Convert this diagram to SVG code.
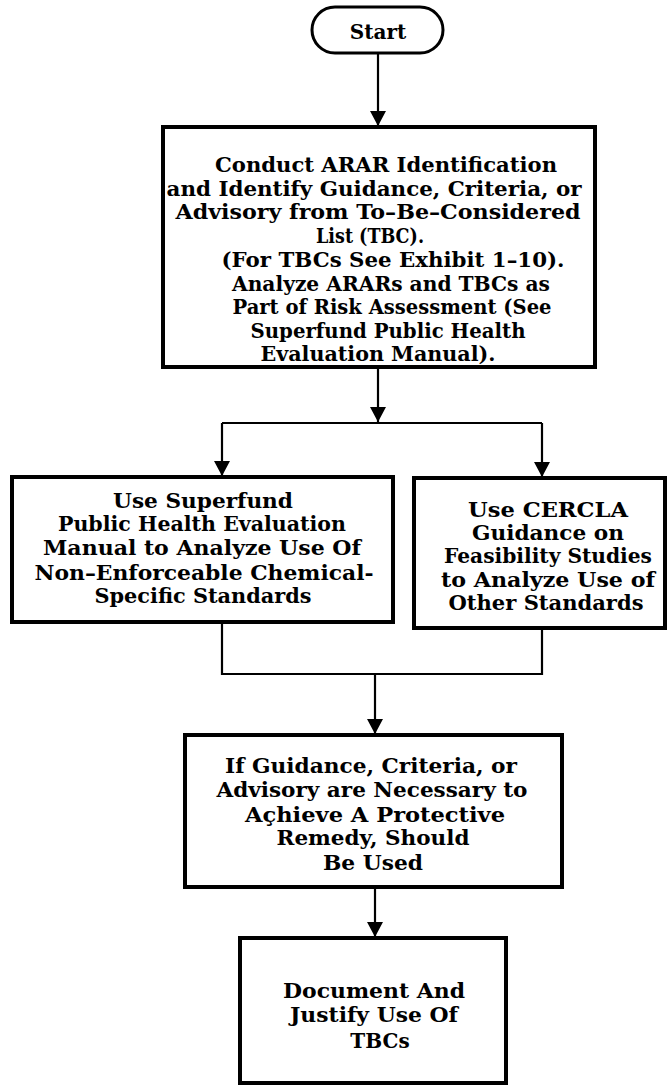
<svg xmlns="http://www.w3.org/2000/svg" width="668" height="1086" viewBox="0 0 668 1086">
<defs>
<style>
.box{fill:#fff;stroke:#000;stroke-width:4}
.pill{fill:#fff;stroke:#000;stroke-width:3}
.c{fill:none;stroke:#000;stroke-width:2.2}
text{font-family:"DejaVu Serif","Liberation Serif",serif;font-weight:bold;font-size:20px;fill:#000;text-anchor:middle}
</style>
<marker id="ah" markerUnits="userSpaceOnUse" markerWidth="18" markerHeight="18" viewBox="0 0 18 18" refX="15" refY="9" orient="auto">
<path d="M0,1 L15,9 L0,17 Z" fill="#000"/>
</marker>
</defs>
<g id="connectors">
<path class="c" d="M378,53 V126" marker-end="url(#ah)"/>
<path class="c" d="M378,367 V422" marker-end="url(#ah)"/>
<path class="c" d="M222,423 H542"/>
<path class="c" d="M222,423 V476" marker-end="url(#ah)"/>
<path class="c" d="M542,423 V477" marker-end="url(#ah)"/>
<path class="c" d="M222,622 V674 H542 V628"/>
<path class="c" d="M375,674 V734" marker-end="url(#ah)"/>
<path class="c" d="M375,887 V937" marker-end="url(#ah)"/>
</g>
<g id="start">
<rect class="pill" x="312" y="7" width="131" height="46" rx="23"/>
<text x="378" y="39">Start</text>
</g>
<g id="identify">
<rect class="box" x="163" y="127" width="432" height="240"/>
<text x="386" y="172" textLength="342" lengthAdjust="spacingAndGlyphs">Conduct ARAR Identification</text>
<text x="374" y="196" textLength="415" lengthAdjust="spacingAndGlyphs">and Identify Guidance, Criteria, or</text>
<text x="378" y="219" textLength="405" lengthAdjust="spacingAndGlyphs">Advisory from To–Be–Considered</text>
<text x="370" y="243" textLength="108" lengthAdjust="spacingAndGlyphs">List (TBC).</text>
<text x="393" y="267" textLength="343" lengthAdjust="spacingAndGlyphs">(For TBCs See Exhibit 1–10).</text>
<text x="391" y="291" textLength="318" lengthAdjust="spacingAndGlyphs">Analyze ARARs and TBCs as</text>
<text x="392" y="314" textLength="319" lengthAdjust="spacingAndGlyphs">Part of Risk Assessment (See</text>
<text x="388" y="338" textLength="275" lengthAdjust="spacingAndGlyphs">Superfund Public Health</text>
<text x="378" y="361" textLength="235" lengthAdjust="spacingAndGlyphs">Evaluation Manual).</text>
</g>
<g id="superfund">
<rect class="box" x="12" y="477" width="381" height="145"/>
<text x="203" y="508" textLength="180" lengthAdjust="spacingAndGlyphs">Use Superfund</text>
<text x="202" y="531" textLength="288" lengthAdjust="spacingAndGlyphs">Public Health Evaluation</text>
<text x="202" y="555" textLength="318" lengthAdjust="spacingAndGlyphs">Manual to Analyze Use Of</text>
<text x="204" y="580" textLength="339" lengthAdjust="spacingAndGlyphs">Non–Enforceable Chemical-</text>
<text x="203" y="603" textLength="217" lengthAdjust="spacingAndGlyphs">Specific Standards</text>
</g>
<g id="cercla">
<rect class="box" x="414" y="478" width="251" height="150"/>
<text x="548" y="517" textLength="160" lengthAdjust="spacingAndGlyphs">Use CERCLA</text>
<text x="548" y="540" textLength="152" lengthAdjust="spacingAndGlyphs">Guidance on</text>
<text x="548" y="563" textLength="208" lengthAdjust="spacingAndGlyphs">Feasibility Studies</text>
<text x="548" y="587" textLength="214" lengthAdjust="spacingAndGlyphs">to Analyze Use of</text>
<text x="546" y="610" textLength="195" lengthAdjust="spacingAndGlyphs">Other Standards</text>
</g>
<g id="guidance">
<rect class="box" x="185" y="735" width="377" height="152"/>
<text x="371" y="773" textLength="292" lengthAdjust="spacingAndGlyphs">If Guidance, Criteria, or</text>
<text x="372" y="797" textLength="311" lengthAdjust="spacingAndGlyphs">Advisory are Necessary to</text>
<text x="375" y="822" textLength="260" lengthAdjust="spacingAndGlyphs">Açhieve A Protective</text>
<text x="373" y="845" textLength="193" lengthAdjust="spacingAndGlyphs">Remedy, Should</text>
<text x="373" y="870" textLength="100" lengthAdjust="spacingAndGlyphs">Be Used</text>
</g>
<g id="document">
<rect class="box" x="240" y="938" width="266" height="145"/>
<text x="374" y="998" textLength="182" lengthAdjust="spacingAndGlyphs">Document And</text>
<text x="374" y="1022" textLength="168" lengthAdjust="spacingAndGlyphs">Justify Use Of</text>
<text x="380" y="1048">TBCs</text>
</g>
</svg>
